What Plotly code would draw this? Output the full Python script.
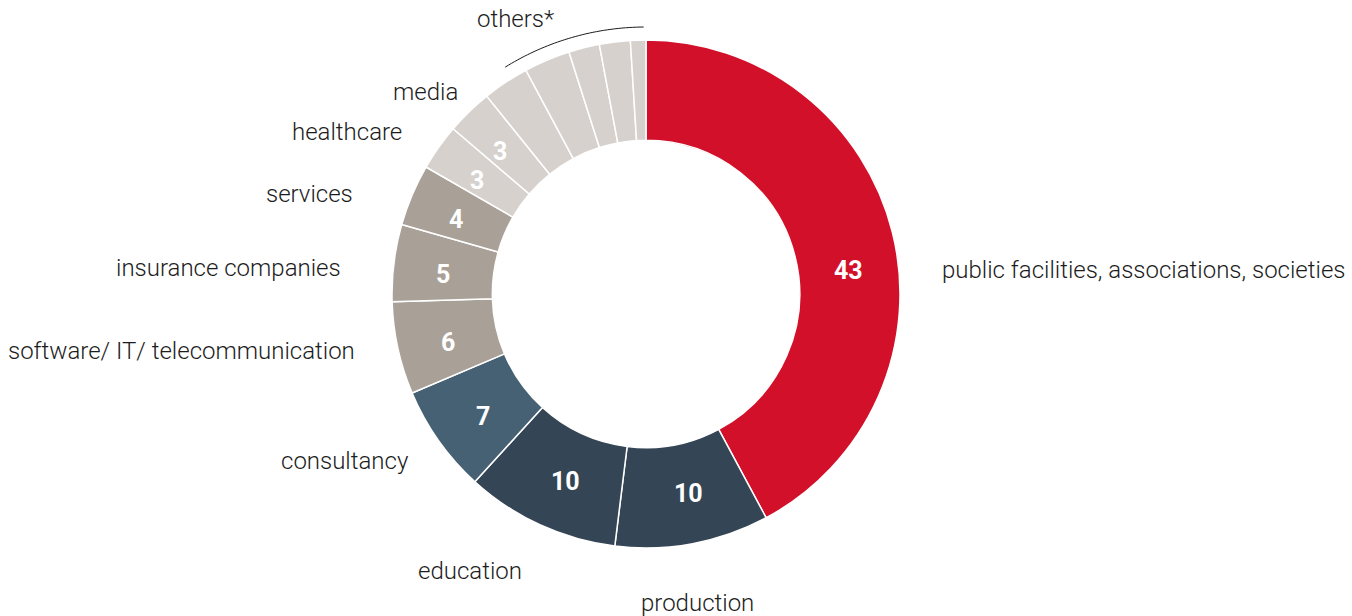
import math
import plotly.graph_objects as go

W, H = 1352, 616

categories = ["public facilities, associations, societies", "production", "education",
              "consultancy", "software/ IT/ telecommunication", "insurance companies",
              "services", "healthcare", "media",
              "others 1", "others 2", "others 3", "others 4", "others 5"]
values = [43, 10, 10, 7, 6, 5, 4, 3, 3, 3, 3, 2, 2, 1]
shown_text = ["43", "10", "10", "7", "6", "5", "4", "3", "3", "", "", "", "", ""]
colors = ["#D2102A", "#344655", "#344655", "#456173", "#A9A198", "#A9A198", "#A9A198",
          "#D6D1CD", "#D6D1CD", "#D6D1CD", "#D6D1CD", "#D6D1CD", "#D6D1CD", "#D6D1CD"]

# outside labels: text, pixel anchor position, anchor
outside_labels = [
    ("public facilities, associations, societies", 940, 270, "left"),
    ("production", 697, 603, "center"),
    ("education", 470, 571, "center"),
    ("consultancy", 411, 461, "right"),
    ("software/ IT/ telecommunication", 357, 351, "right"),
    ("insurance companies", 343, 268, "right"),
    ("services", 355, 194, "right"),
    ("healthcare", 404, 132, "right"),
    ("media", 460, 92, "right"),
    ("others*", 556, 19, "right"),
]

cx, cy, R = 646, 294, 254
HOLE = 0.605

fig = go.Figure(go.Pie(
    labels=categories,
    values=values,
    textinfo="none",
    marker=dict(colors=colors, line=dict(color="white", width=1.5)),
    hole=HOLE,
    sort=False,
    direction="clockwise",
    rotation=0,
    showlegend=False,
    domain=dict(x=[(cx - R) / W, (cx + R) / W],
                y=[1 - (cy + R) / H, 1 - (cy - R) / H]),
))

annotations = []
for txt, px, py, anc in outside_labels:
    annotations.append(dict(
        text=txt, x=px / W, y=1 - py / H, xref="paper", yref="paper",
        xanchor=anc, yanchor="middle", showarrow=False,
        font=dict(family="Roboto", size=24, color="#1c1c1c", weight=300),
    ))

# value labels inside the ring, near each slice's middle angle
total = sum(values)
r_mid = R * (1 + HOLE) / 2
cum = 0
for i, (v, t) in enumerate(zip(values, shown_text)):
    mid = (cum + v / 2) / total * 2 * math.pi - math.radians(1.5)
    cum += v
    if not t:
        continue
    px = cx + r_mid * math.sin(mid)
    py = cy - r_mid * math.cos(mid)
    if i == 0:
        # largest value aligned with its outside label
        py = outside_labels[0][2]
        px = cx + math.sqrt(max(r_mid ** 2 - (py - cy) ** 2, 0))
    annotations.append(dict(
        text=t, x=px / W, y=1 - py / H, xref="paper", yref="paper",
        xanchor="center", yanchor="middle", showarrow=False,
        font=dict(family="Roboto", size=25, color="white", weight=700),
    ))

# arc bracket above the "others" slices
start_frac = sum(values[:9]) / total
a0 = 360 * start_frac + 7
a1 = 359.5
Rarc = 267
pts = []
n = 40
for i in range(n + 1):
    a = math.radians(a0 + (a1 - a0) * i / n)
    px = cx + Rarc * math.sin(a)
    py = cy - Rarc * math.cos(a)
    pts.append((px / W, 1 - py / H))
path = "M " + " L ".join(f"{x:.5f},{y:.5f}" for x, y in pts)

fig.update_layout(
    width=W, height=H,
    margin=dict(l=0, r=0, t=0, b=0),
    paper_bgcolor="white", plot_bgcolor="white",
    annotations=annotations,
    shapes=[dict(type="path", path=path, xref="paper", yref="paper",
                 line=dict(color="#1c1c1c", width=1))],
)

fig.write_html("out.html")
